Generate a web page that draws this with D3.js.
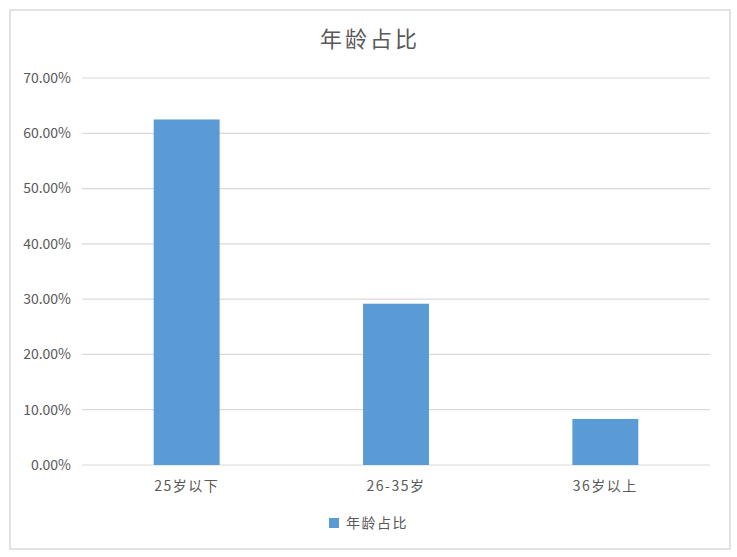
<!DOCTYPE html>
<html>
<head>
<meta charset="utf-8">
<script src="https://cdn.jsdelivr.net/npm/d3@7"></script>
<style>
  body { margin: 0; background: #fff; }
  text { font-family: "Noto Sans CJK SC", "Open Sans", sans-serif; fill: #595959; }
</style>
</head>
<body>
<div id="chart"></div>
<script>
// data
const categories = ["25岁以下", "26-35岁", "36岁以上"];
const values = [0.625, 0.2917, 0.0833];
const yTicks = [0, 0.1, 0.2, 0.3, 0.4, 0.5, 0.6, 0.7];
const title = "年龄占比";
const seriesName = "年龄占比";

const width = 737, height = 557;
const margin = { top: 78, right: 27, bottom: 92, left: 82 };
const barColor = "#5b9bd5";

const svg = d3.select("#chart")
  .append("svg")
  .attr("width", width)
  .attr("height", height);

// chart border
svg.append("rect")
  .attr("x", 10).attr("y", 10)
  .attr("width", 720).attr("height", 539)
  .attr("fill", "#fff")
  .attr("stroke", "#d9d9d9")
  .attr("stroke-width", 1.5);

svg.append("text")
  .attr("x", 370).attr("y", 47)
  .attr("text-anchor", "middle")
  .style("font-size", "22px")
  .style("letter-spacing", "3px")
  .text(title);

const x = d3.scaleBand()
  .domain(categories)
  .range([margin.left, width - margin.right])
  .padding(0);

const y = d3.scaleLinear()
  .domain([0, 0.7])
  .range([height - margin.bottom, margin.top]);

// gridlines
svg.append("g")
  .selectAll("line")
  .data(yTicks)
  .enter()
  .append("line")
  .attr("x1", margin.left)
  .attr("x2", width - margin.right)
  .attr("y1", d => y(d))
  .attr("y2", d => y(d))
  .attr("stroke", "#d9d9d9")
  .attr("stroke-width", 1.2);

// y labels
const pct = d3.format(".2%");
svg.append("g")
  .selectAll("text")
  .data(yTicks)
  .enter()
  .append("text")
  .attr("x", margin.left - 11)
  .attr("y", d => y(d))
  .attr("dy", "0.35em")
  .attr("text-anchor", "end")
  .style("font-size", "14px")
  .text(d => pct(d));

// bars
const barW = x.bandwidth() * 0.315;
svg.append("g")
  .selectAll("rect")
  .data(values)
  .enter()
  .append("rect")
  .attr("x", (d, i) => x(categories[i]) + x.bandwidth() / 2 - barW / 2)
  .attr("y", d => y(d))
  .attr("width", barW)
  .attr("height", d => y(0) - y(d))
  .attr("fill", barColor);

// x labels
svg.append("g")
  .selectAll("text")
  .data(categories)
  .enter()
  .append("text")
  .attr("x", d => x(d) + x.bandwidth() / 2)
  .attr("y", y(0) + 26)
  .attr("text-anchor", "middle")
  .style("font-size", "14px")
  .style("letter-spacing", "1.5px")
  .text(d => d);

// legend
svg.append("rect")
  .attr("x", 329).attr("y", 518)
  .attr("width", 10).attr("height", 10)
  .attr("fill", barColor);

svg.append("text")
  .attr("x", 346).attr("y", 523)
  .attr("dy", "0.35em")
  .style("font-size", "14px")
  .style("letter-spacing", "1.5px")
  .text(seriesName);
</script>
</body>
</html>
